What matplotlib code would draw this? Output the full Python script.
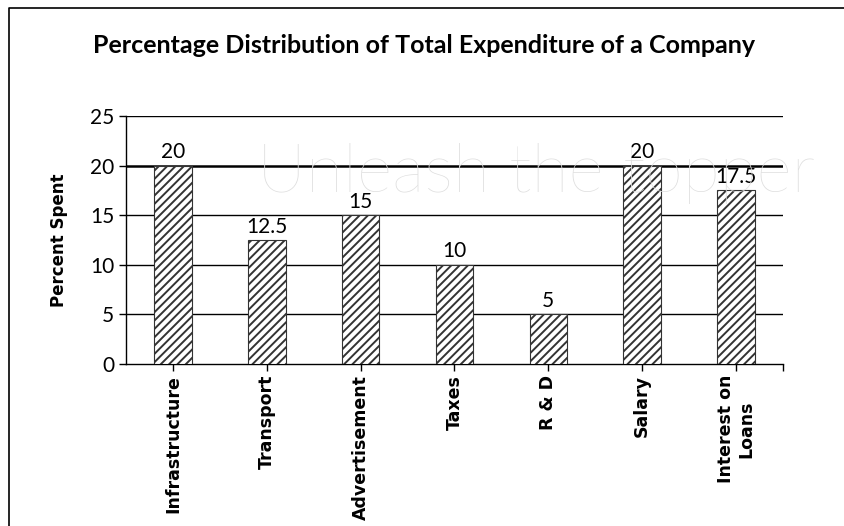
import matplotlib.pyplot as plt
from matplotlib.lines import Line2D

# Expenditure shares
categories = ['Infrastructure', 'Transport', 'Advertisement', 'Taxes', 'R & D', 'Salary', 'Interest on\nLoans']
percent_spent = [20, 12.5, 15, 10, 5, 20, 17.5]
value_labels = ['20', '12.5', '15', '10', '5', '20', '17.5']
y_ticks = [0, 5, 10, 15, 20, 25]

plt.rcParams['hatch.linewidth'] = 1.4

fig = plt.figure(figsize=(8.44, 5.26), dpi=100)
ax = fig.add_axes([0.1493, 0.308, 0.7784, 0.4715])

# faint watermark behind the chart
fig.text(0.635, 0.67, 'Unleash the topper', fontsize=49, color='#dedede',
         family='Lato', weight='light', ha='center', va='center', zorder=0)

# frame round the picture (left and top only)
fig.add_artist(Line2D([0.0107, 0.0107, 1.0], [0.0, 0.985, 0.985], color='black', lw=1.2))

positions = [i + 0.5 for i in range(len(categories))]
ax.bar(positions, percent_spent, width=0.4, color='white', edgecolor='#333333',
       hatch='////', linewidth=0.8, zorder=3)

for x, v, lab in zip(positions, percent_spent, value_labels):
    ax.text(x, v + 0.35, lab, ha='center', va='bottom', fontsize=15, family='Lato', zorder=4)

ax.set_xlim(0, len(categories))
ax.set_ylim(0, 25)
ax.set_yticks(y_ticks)
ax.set_yticklabels([str(t) for t in y_ticks], fontsize=15, family='Lato')
for t in y_ticks[1:]:
    ax.axhline(t, color='black', lw=1.8 if t == 20 else 1.0, zorder=1)

ax.set_xticks(positions + [len(categories)])
ax.set_xticklabels(categories + [''], rotation=90, fontsize=12.5, family='DejaVu Sans',
                   weight='bold', va='top', ha='center', multialignment='center')
ax.tick_params(axis='both', direction='out', length=5, width=1, color='black')
ax.tick_params(axis='x', pad=3)

for side in ['top', 'right']:
    ax.spines[side].set_visible(False)
ax.spines['left'].set_linewidth(1.0)
ax.spines['bottom'].set_linewidth(1.0)
ax.patch.set_alpha(0)

ax.set_ylabel('Percent Spent', fontsize=12, family='DejaVu Sans', weight='bold', labelpad=16)

fig.text(0.503, 0.914, 'Percentage Distribution of Total Expenditure of a Company',
         ha='center', va='center', fontsize=18, family='Lato', weight='bold')

fig.savefig('out.png', dpi=100)
